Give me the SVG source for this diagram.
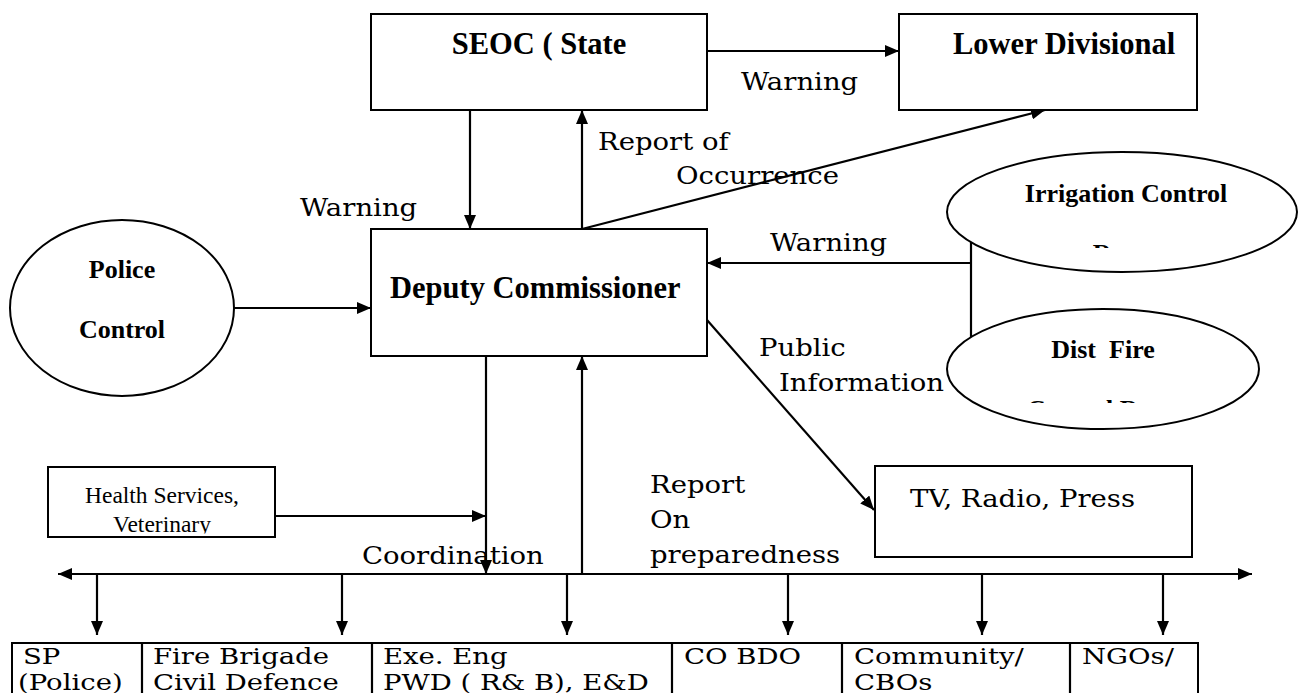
<svg xmlns="http://www.w3.org/2000/svg" width="1302" height="693" viewBox="0 0 1302 693">
<style>
.box{fill:#fff;stroke:#000;stroke-width:2}
.ell{fill:#fff;stroke:#000;stroke-width:2}
.ln{fill:none;stroke:#000;stroke-width:2.2}
.bt{font-family:"Liberation Serif","Times New Roman",serif;font-weight:bold;font-size:30.5px;fill:#000}
.bs{font-family:"Liberation Serif","Times New Roman",serif;font-weight:bold;font-size:26px;fill:#000}
.lb{font-family:"DejaVu Serif","Liberation Serif",serif;font-size:25px;fill:#000}
.tb{font-family:"DejaVu Serif","Liberation Serif",serif;font-size:22px;fill:#000}
.sm{font-family:"Liberation Serif","Times New Roman",serif;font-size:23.5px;fill:#000}
</style>
<defs>
<marker id="ah" viewBox="0 0 14 12" refX="14" refY="6" markerWidth="14" markerHeight="12" markerUnits="userSpaceOnUse" orient="auto-start-reverse">
<path d="M0,0 L14,6 L0,12 z" fill="#000"/>
</marker>
<clipPath id="clipHealth"><rect x="49" y="468" width="225" height="65.5"/></clipPath>
<clipPath id="clipIrr"><rect x="940" y="150" width="360" height="98"/></clipPath>
<clipPath id="clipFire"><rect x="940" y="300" width="330" height="103"/></clipPath>
</defs>

<g id="connectors">
<path class="ln" d="M971,240 V340"/>
<path class="ln" d="M707,51 H899" marker-end="url(#ah)"/>
<path class="ln" d="M470,110 V229" marker-end="url(#ah)"/>
<path class="ln" d="M582,229 V110" marker-end="url(#ah)"/>
<path class="ln" d="M582,229 L1045,110" marker-end="url(#ah)"/>
<path class="ln" d="M226,308 H371" marker-end="url(#ah)"/>
<path class="ln" d="M971,263 H707" marker-end="url(#ah)"/>
<path class="ln" d="M707,320 L874,510" marker-end="url(#ah)"/>
<path class="ln" d="M275,516 H486" marker-end="url(#ah)"/>
<path class="ln" d="M486,356 V574" marker-end="url(#ah)"/>
<path class="ln" d="M582,574 V356" marker-end="url(#ah)"/>
<path class="ln" d="M58,574 H1252" marker-start="url(#ah)" marker-end="url(#ah)"/>
<path class="ln" d="M97,574 V635" marker-end="url(#ah)"/>
<path class="ln" d="M342,574 V635" marker-end="url(#ah)"/>
<path class="ln" d="M567,574 V635" marker-end="url(#ah)"/>
<path class="ln" d="M788,574 V635" marker-end="url(#ah)"/>
<path class="ln" d="M982,574 V635" marker-end="url(#ah)"/>
<path class="ln" d="M1163,574 V635" marker-end="url(#ah)"/>
</g>

<g id="labels">
<text class="lb" transform="translate(741,90) scale(1.1,1)">Warning</text>
<text class="lb" transform="translate(598,150) scale(1.1,1)">Report of</text>
<text class="lb" transform="translate(676,184) scale(1.1,1)">Occurrence</text>
<text class="lb" transform="translate(300,216) scale(1.1,1)">Warning</text>
<text class="lb" transform="translate(770,251) scale(1.1,1)">Warning</text>
<text class="lb" transform="translate(759,356) scale(1.1,1)">Public</text>
<text class="lb" transform="translate(779,391) scale(1.1,1)">Information</text>
<text class="lb" transform="translate(650,493) scale(1.1,1)">Report</text>
<text class="lb" transform="translate(650,528) scale(1.1,1)">On</text>
<text class="lb" transform="translate(650,563) scale(1.1,1)">preparedness</text>
<text class="lb" transform="translate(362,564) scale(1.1,1)">Coordination</text>
</g>

<g id="seoc">
<rect class="box" x="371" y="14" width="336" height="96"/>
<text class="bt" x="539" y="54" text-anchor="middle">SEOC ( State</text>
</g>

<g id="lower-divisional">
<rect class="box" x="899" y="14" width="298" height="96"/>
<text class="bt" x="953" y="54">Lower Divisional</text>
</g>

<g id="deputy-commissioner">
<rect class="box" x="371" y="229" width="336" height="127"/>
<text class="bt" x="390" y="298">Deputy Commissioner</text>
</g>

<g id="police-control">
<ellipse class="ell" cx="122" cy="308" rx="112" ry="88"/>
<text class="bs" x="122" y="278" text-anchor="middle">Police</text>
<text class="bs" x="122" y="338" text-anchor="middle">Control</text>
</g>

<g id="irrigation-control">
<ellipse class="ell" cx="1122" cy="212" rx="175" ry="60"/>
<text class="bs" x="1126" y="202" text-anchor="middle">Irrigation Control</text>
<text class="bs" x="1126" y="262" text-anchor="middle" clip-path="url(#clipIrr)">Room</text>
</g>

<g id="dist-fire">
<ellipse class="ell" cx="1103" cy="369" rx="156" ry="60"/>
<text class="bs" x="1103" y="358" text-anchor="middle" xml:space="preserve">Dist  Fire</text>
<text class="bs" x="1027" y="418" clip-path="url(#clipFire)">Control Room</text>
</g>

<g id="health-services">
<rect class="box" x="48" y="467" width="227" height="70"/>
<g clip-path="url(#clipHealth)">
<text class="sm" x="162" y="503" text-anchor="middle">Health Services,</text>
<text class="sm" x="162" y="532" text-anchor="middle">Veterinary</text>
</g>
</g>

<g id="tv-radio-press">
<rect class="box" x="875" y="466" width="317" height="91"/>
<text class="lb" transform="translate(910,507) scale(1.1,1)">TV, Radio, Press</text>
</g>

<g id="table">
<rect class="box" x="12" y="643" width="1186" height="70"/>
<path class="ln" d="M142,643 V700 M372,643 V700 M672,643 V700 M842,643 V700 M1070,643 V700"/>
<text class="tb" transform="translate(23,664) scale(1.25,1)">SP</text>
<text class="tb" transform="translate(18,690) scale(1.25,1)">(Police)</text>
<text class="tb" transform="translate(153,664) scale(1.25,1)">Fire Brigade</text>
<text class="tb" transform="translate(153,690) scale(1.25,1)">Civil Defence</text>
<text class="tb" transform="translate(383,664) scale(1.25,1)">Exe. Eng</text>
<text class="tb" transform="translate(383,690) scale(1.25,1)">PWD ( R&amp; B), E&amp;D</text>
<text class="tb" transform="translate(684,664) scale(1.25,1)">CO BDO</text>
<text class="tb" transform="translate(854,664) scale(1.25,1)">Community/</text>
<text class="tb" transform="translate(854,690) scale(1.25,1)">CBOs</text>
<text class="tb" transform="translate(1082,664) scale(1.25,1)">NGOs/</text>
</g>
</svg>
